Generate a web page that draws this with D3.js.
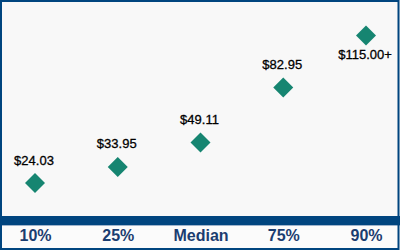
<!DOCTYPE html>
<html>
<head>
<meta charset="utf-8">
<script src="https://cdn.jsdelivr.net/npm/d3@7"></script>
<style>
  html, body { margin: 0; padding: 0; background: #fff; }
  svg { display: block; font-family: 'Liberation Sans', Arial, sans-serif; }
</style>
</head>
<body>
<div id="app"></div>
<script>
// data
const categories = ['10%', '25%', 'Median', '75%', '90%'];
const values = [24.03, 33.95, 49.11, 82.95, 115.0];
const valueLabels = ['$24.03', '$33.95', '$49.11', '$82.95', '$115.00+'];

// canvas
const width = 400;
const height = 250;
const plotTop = 2;
const plotBottom = 222;

const svg = d3.select('#app')
  .append('svg')
  .attr('width', width)
  .attr('height', height);

// background
svg.append('rect')
  .attr('x', 0).attr('y', 0)
  .attr('width', width).attr('height', height)
  .attr('fill', '#f8f8f8');

// scales
const xScale = d3.scalePoint()
  .domain(categories)
  .range([35, 366]);

const yScale = d3.scaleLinear()
  .domain([0, 135.7])
  .range([plotBottom, plotTop]);

// baseline bar
svg.append('rect')
  .attr('x', 0).attr('y', 216)
  .attr('width', width).attr('height', 9)
  .attr('fill', '#00457f');
svg.append('rect')
  .attr('x', 0).attr('y', 225)
  .attr('width', width).attr('height', 1)
  .attr('fill', '#9fb4cc');
svg.append('rect')
  .attr('x', 0).attr('y', 226)
  .attr('width', width).attr('height', 24)
  .attr('fill', '#fbfbfb');

// axis
const xAxis = svg.append('g')
  .attr('transform', 'translate(0,226)')
  .call(d3.axisBottom(xScale).tickSize(0).tickPadding(3.6));
xAxis.select('.domain').remove();
xAxis.selectAll('text')
  .attr('fill', '#1b3d70')
  .style('font-family', "'Liberation Sans', Arial, sans-serif")
  .style('font-size', '16px')
  .style('font-weight', 'bold');

// diamonds
const diamond = d3.symbol().type(d3.symbolSquare).size(200);
svg.append('g')
  .selectAll('path')
  .data(values)
  .enter()
  .append('path')
  .attr('d', diamond)
  .attr('transform', (d, i) => `translate(${xScale(categories[i])},${yScale(d)}) rotate(45)`)
  .attr('fill', '#168571');

// value labels (last one sits below its marker)
svg.append('g')
  .selectAll('text')
  .data(values)
  .enter()
  .append('text')
  .attr('x', (d, i) => xScale(categories[i]) - 1)
  .attr('y', (d, i) => yScale(d) + (i === values.length - 1 ? 23.5 : -18.5))
  .attr('text-anchor', 'middle')
  .attr('fill', '#000')
  .attr('stroke', '#000')
  .attr('stroke-width', 0.3)
  .style('font-size', '13px')
  .text((d, i) => valueLabels[i]);

// outer frame
svg.append('rect')
  .attr('x', 1).attr('y', 1)
  .attr('width', width - 2.5).attr('height', height - 2)
  .attr('fill', 'none')
  .attr('stroke', '#00457f')
  .attr('stroke-width', 2);
</script>
</body>
</html>
